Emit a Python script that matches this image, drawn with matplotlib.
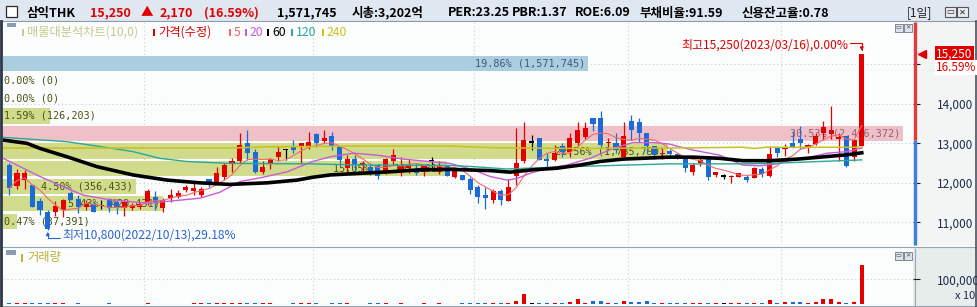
import matplotlib
matplotlib.use("Agg")
import matplotlib.pyplot as plt
import matplotlib.transforms as mtrans
from matplotlib.patches import Rectangle
import numpy as np
import pandas as pd

plt.rcParams['font.family'] = ['Noto Sans CJK KR', 'DejaVu Sans']

# 일봉 시가/고가/저가/종가 (112 거래일, 마지막 = 2023/03/16)
opens = [12450, 11920, 12070, 11950, 11530, 11270, 11270, 11310, 11750, 11590,
         11400, 11470, 11420, 11580, 11520, 11360, 11360, 11400, 11520, 11650,
         11360, 11610, 11650, 11820, 11800, 11690, 12090, 11990, 12140, 12490,
         12540, 13000, 12790, 12280, 12470, 12660, 12830, 12900, 12900, 12940,
         13230, 13070, 13190, 12900, 12380, 12600, 12450, 12390, 12450, 12260,
         12540, 12330, 12380, 12340, 12280, 12550, 12280, 12450, 12140, 12200,
         12090, 11890, 11690, 11570, 11800, 11530, 12170, 12550, 13020, 13140,
         12600, 12580, 12940, 12790, 13020, 13170, 13630, 13630, 13000, 13020,
         12660, 13570, 13540, 13250, 12920, 12730, 12810, 12730, 12660, 12280,
         12490, 12660, 12200, 12160, 12140, 12160, 12160, 12120, 12350, 12170,
         12900, 12850, 13000, 13100, 12900, 12980, 13270, 13240, 13120, 13190,
         12650, 12930]
highs = [12500, 12340, 12330, 11950, 11610, 11310, 11530, 11580, 11800, 11690,
         11560, 11520, 11570, 11610, 11580, 11570, 11480, 11500, 11840, 11800,
         11610, 11840, 11820, 11950, 11990, 11900, 12090, 12410, 12490, 12620,
         13250, 13340, 12850, 12540, 12620, 12920, 12850, 13080, 13000, 13280,
         13250, 13340, 13290, 12920, 12700, 12700, 12560, 12490, 12480, 12620,
         12850, 12650, 12600, 12490, 12450, 12650, 12540, 12450, 12380, 12200,
         12140, 11950, 11890, 11840, 11840, 12090, 13390, 13540, 13200, 13140,
         12750, 12960, 13020, 13250, 13540, 13540, 13630, 13810, 13130, 13250,
         13540, 13720, 13630, 13250, 12920, 12870, 12850, 12760, 12660, 12510,
         12660, 12660, 12280, 12220, 12200, 12240, 12200, 12410, 12410, 12930,
         12900, 12980, 13300, 13440, 12980, 13250, 13570, 13940, 13270, 13190,
         13080, 15250]
lows = [11690, 11840, 11840, 11400, 11190, 10800, 11150, 11130, 11560, 11230,
        11300, 11250, 11330, 11250, 11210, 11150, 11320, 11350, 11440, 11310,
        11250, 11520, 11610, 11780, 11700, 11650, 11900, 11950, 12070, 12280,
        12490, 12580, 12240, 12220, 12340, 12540, 12580, 12750, 12490, 12850,
        12900, 13000, 12830, 12450, 12280, 12280, 12240, 12200, 12090, 12220,
        12450, 12170, 12260, 12200, 12170, 12370, 12220, 12170, 12110, 12070,
        11720, 11500, 11350, 11500, 11440, 11530, 11950, 12490, 12830, 12580,
        12370, 12560, 12660, 12660, 12930, 13100, 13320, 12870, 12830, 12750,
        12660, 13080, 13040, 12730, 12600, 12600, 12680, 12600, 12280, 12200,
        12430, 12060, 12160, 12090, 12000, 12160, 12030, 12120, 12140, 12140,
        12650, 12680, 12870, 12850, 12750, 12960, 13080, 13100, 12560, 12410,
        12540, 12930]
closes = [11860, 12260, 12260, 11400, 11300, 10820, 11420, 11570, 11570, 11400,
          11480, 11250, 11420, 11360, 11360, 11520, 11440, 11460, 11800, 11520,
          11570, 11690, 11740, 11890, 11860, 11840, 11950, 12240, 12450, 12550,
          12960, 12750, 12280, 12410, 12600, 12790, 12830, 12830, 13000, 13040,
          13000, 13130, 12900, 12580, 12600, 12450, 12510, 12220, 12170, 12600,
          12700, 12450, 12450, 12240, 12450, 12550, 12450, 12170, 12340, 12070,
          11820, 11630, 11610, 11800, 11570, 11890, 12510, 13080, 13020, 12580,
          12540, 12760, 12790, 13130, 13340, 13380, 13490, 12960, 13040, 12820,
          13190, 13340, 13250, 12920, 12700, 12750, 12730, 12660, 12380, 12450,
          12580, 12140, 12280, 12160, 12180, 12240, 12070, 12380, 12220, 12730,
          12750, 12870, 12870, 13020, 12960, 13190, 13410, 13340, 13150, 12430,
          13080, 15250]
volumes = [38000, 42000, 35000, 40000, 36000, 45000, 33000, 36000, 30000, 34000,
           31000, 30000, 28000, 33000, 30000, 32000, 29000, 30000, 34000, 31000,
           30000, 32000, 30000, 31000, 35000, 33000, 36000, 67000, 38000, 36000,
           67000, 67000, 36000, 33000, 35000, 30000, 31000, 34000, 33000, 36000,
           38000, 32000, 35000, 33000, 34000, 31000, 30000, 36000, 33000, 35000,
           31000, 34000, 32000, 30000, 33000, 31000, 36000, 30000, 32000, 35000,
           38000, 36000, 34000, 33000, 36000, 40000, 133000, 413000, 40000, 50000,
           50000, 40000, 40000, 107000, 213000, 67000, 133000, 147000, 40000, 40000,
           147000, 80000, 80000, 147000, 67000, 40000, 36000, 38000, 35000, 34000,
           37000, 67000, 35000, 33000, 36000, 34000, 35000, 33000, 36000, 173000,
           67000, 80000, 107000, 107000, 67000, 107000, 213000, 213000, 107000, 67000,
           107000, 1571745]
prev_close = 13080
month_first = [18, 40, 61, 81, 101]   # 11/1, 12/1, 1/2, 2/1, 3/2

# 이동평균선
ma20_x = [-0.8, 1.4, 4.0, 7.5, 9.6, 13.1, 18.3, 20.5, 24.8, 27.4, 30.0, 33.0, 36.2,
          39.5, 41.8, 44.8, 47.9, 51.3, 57.4, 60.4, 62.6, 64.8, 66.1, 67.8, 70.0,
          72.6, 75.6, 78.6, 81.2, 83.8, 86.0, 86.9, 89.0, 92.5, 95.5, 97.7, 99.9,
          102.0, 104.3, 106.5, 109.1, 111]
ma20_y = [12620, 12410, 12160, 11860, 11690, 11570, 11480, 11530, 11610, 11760, 12030,
          12140, 12280, 12540, 12660, 12750, 12700, 12600, 12490, 12330, 12160, 12070,
          12110, 12240, 12370, 12450, 12620, 12870, 13020, 13020, 12980, 12930, 12830,
          12700, 12450, 12430, 12480, 12580, 12650, 12750, 12790, 12880]
ma60_x = [-0.8, 2.3, 4.0, 7.5, 11.4, 16.1, 20.5, 24.8, 28.7, 33.6, 37.5, 39.5, 41.8,
          45.7, 49.6, 53.5, 57.4, 62.6, 65.2, 68.2, 71.3, 74.3, 76.9, 79.9, 86.0,
          89.0, 92.5, 95.5, 99.0, 102.6, 105.6, 109.1, 111]
ma60_y = [13080, 13000, 12870, 12660, 12410, 12200, 12070, 12000, 11960, 12000, 12070,
          12140, 12200, 12240, 12280, 12330, 12340, 12310, 12270, 12330, 12370, 12450,
          12540, 12600, 12650, 12650, 12620, 12560, 12560, 12600, 12650, 12710, 12760]
ma120_x = [-0.8, 3.1, 7.5, 11.8, 16.1, 19.6, 23.1, 28.7, 39.5, 45.7, 57.4, 60.4, 64.8,
           67.4, 73.4, 80.4, 86.0, 95.5, 99.0, 105.6, 111]
ma120_y = [13150, 13100, 13040, 12920, 12790, 12620, 12540, 12490, 12480, 12450, 12440,
           12410, 12350, 12370, 12410, 12450, 12480, 12480, 12490, 12540, 12580]
ma240_x = [-0.8, 28.7, 33.6, 45.7, 57.4, 62.6, 71.3, 86.0, 95.5, 97.0, 98.5, 111]
ma240_y = [12880, 12880, 12910, 12930, 12930, 12890, 12870, 12880, 12900, 12870, 12900, 12900]

# 매물대 (10구간)
profile_vol = [37391, 429431, 356433, 1191381, 1785790, 2416372, 126203, 0, 0, 1571745]

header = [(27, '삼익THK', 'black'), (90, '15,250', '#e00000'), (141, '▲', '#e00000'),
          (160, '2,170', '#e00000'), (204, '(16.59%)', '#e00000'),
          (277, '1,571,745', 'black'), (352, '시총:3,202억', 'black'),
          (448, 'PER:23.25', 'black'), (512, 'PBR:1.37', 'black'),
          (575, 'ROE:6.09', 'black'), (640, '부채비율:91.59', 'black'),
          (742, '신용잔고율:0.78', 'black')]
legend = [(22, '매물대분석차트(10,0)', '#c5ca8e'), (153, '가격(수정)', '#e00000'),
          (229, '5', '#e86a6a'), (245, '20', '#c95bd8'), (267, '60', '#000000'),
          (291, '120', '#2aa898'), (322, '240', '#c8c01c')]

W, H = 978, 307
fig = plt.figure(figsize=(W / 100, H / 100), dpi=100)
fig.patch.set_facecolor('#fbfdfd')


def box(x0, y0, x1, y1):
    return [x0 / W, 1 - y1 / H, (x1 - x0) / W, (y1 - y0) / H]


bg = fig.add_axes([0, 0, 1, 1], zorder=0)
bg.set_xlim(0, W); bg.set_ylim(H, 0); bg.axis('off')
ax = fig.add_axes(box(3, 22, 913, 245), zorder=1)
axv = fig.add_axes(box(3, 249, 913, 305), zorder=1)
ov = fig.add_axes([0, 0, 1, 1], zorder=5)
ov.set_xlim(0, W); ov.set_ylim(H, 0); ov.axis('off')

# 배경, 테두리
bg.add_patch(Rectangle((0, 0), W, 20.5, fc='#dfe7f1', ec='none'))
bg.add_patch(Rectangle((913, 21), 65, 225, fc='#f3f5f5', ec='none'))
bg.add_patch(Rectangle((913, 247), 65, 60, fc='#e7edeb', ec='none'))
bg.plot([0, W], [20.5, 20.5], color='#8d99ab', lw=0.8)
bg.plot([3, W], [246.5, 246.5], color='#98a3b4', lw=0.8)
bg.plot([3, W], [305.5, 305.5], color='#98a3b4', lw=0.8)
bg.plot([1.3, 1.3], [20.5, H], color='#2c3648', lw=2.0)
bg.plot([976, 976], [20.5, H], color='#4a5260', lw=1.2)
bg.plot([914.5, 914.5], [249, 305], color='#9aa4b2', lw=0.8)

x = np.arange(len(closes))
o, h, l, c = (np.array(v, dtype=float) for v in (opens, highs, lows, closes))
col = np.where(c > o, '#e50000', np.where(c < o, '#1c6ad8', '#000000'))

# ---- 가격 차트 ----
ax.set_facecolor('#fbfdfd')
ax.set_xlim(-0.82, 117.67)
ax.set_ylim(10427, 16069)
for s in ax.spines.values():
    s.set_visible(False)
ax.set_xticks(np.array(month_first) - 0.5)
ax.tick_params(axis='x', length=0, labelbottom=False)
ax.yaxis.tick_right()
ax.set_yticks([11000, 12000, 13000, 14000, 15000])
ax.set_yticklabels(['11,000', '12,000', '13,000', '14,000', ''])
ax.tick_params(axis='y', direction='out', length=5, width=0.8, color='#202020',
               pad=12, labelsize=8.5, labelcolor='#1e2b4c')
ax.grid(True, color='#c9ced6', linestyle=(0, (1, 2.5)), linewidth=0.8)
ax.set_axisbelow(True)

# 매물대
x0, x1 = ax.get_xlim()
span = x1 - x0
edges = np.linspace(10800, 15250, len(profile_vol) + 1)
binh = edges[1] - edges[0]
pct = np.array(profile_vol) / sum(profile_vol) * 100
imax = int(np.argmax(pct))
icur = int(np.searchsorted(edges, closes[-1])) - 1
for i, p in enumerate(pct):
    w = p / pct.max() * span * 0.989
    fc, tc = '#d0dc8c', '#4a5214'
    if i == imax:
        fc, tc = '#f0c0c8', '#8e6472'
    elif i == icur:
        fc, tc = '#aacde0', '#3d5a78'
    yc = (edges[i] + edges[i + 1]) / 2
    ax.barh(yc, w, height=binh - 60, left=x0, color=fc, zorder=1)
    label = f"{p:.2f}% ({profile_vol[i]:,})"
    if w / span * 910 > 100:
        ax.text(x0 + w - 0.4, yc, label, ha='right', va='center', color=tc,
                family='DejaVu Sans Mono', fontsize=7.3, zorder=2)
    else:
        ax.text(x0 + 0.15, yc, label, ha='left', va='center', color=tc,
                family='DejaVu Sans Mono', fontsize=7.3, zorder=2)

# 캔들
ax.vlines(x, l, h, colors=col, lw=0.9, zorder=4)
ax.bar(x, np.maximum(np.abs(c - o), 28), bottom=np.minimum(o, c), width=0.66,
       color=col, linewidth=0, zorder=4)

# 이동평균
ma5 = pd.Series(closes).rolling(5, min_periods=1).mean()
ax.plot(x, ma5, color='#ef6b6b', lw=0.8, zorder=5)
ax.plot(ma20_x, ma20_y, color='#c95bd8', lw=1.0, zorder=5)
ax.plot(ma120_x, ma120_y, color='#2aa898', lw=1.0, zorder=5)
ax.plot(ma240_x, ma240_y, color='#c8c01c', lw=1.1, zorder=5)
ax.plot(ma60_x, ma60_y, color='black', lw=2.6, zorder=6)

# 최고/최저 표시
hi_i = int(np.argmax(h)); lo_i = int(np.argmin(l))
ax.annotate(f"최고{h[hi_i]:,.0f}(2023/03/16),0.00%", xy=(hi_i, h[hi_i]),
            xytext=(-9.9, 6.8), textcoords='offset points', ha='right', va='center',
            color='#e00000', fontsize=8.6, zorder=7)
ax.annotate('', xy=(hi_i, h[hi_i]), xytext=(-8.4, 8.4), textcoords='offset points',
            arrowprops=dict(arrowstyle='-|>', color='#e00000', lw=0.8, mutation_scale=5,
                            connectionstyle='angle,angleA=0,angleB=90,rad=0',
                            shrinkA=0, shrinkB=2.5), zorder=7)
ax.annotate(f"최저{l[lo_i]:,.0f}(2022/10/13),29.18%", xy=(lo_i, l[lo_i]),
            xytext=(10.3, -3.8), textcoords='offset points', ha='left', va='center',
            color='#2a64cc', fontsize=8.6, zorder=7)
ax.annotate('', xy=(lo_i, l[lo_i]), xytext=(8.9, -5.3), textcoords='offset points',
            arrowprops=dict(arrowstyle='-|>', color='#2a64cc', lw=0.8, mutation_scale=5,
                            connectionstyle='angle,angleA=180,angleB=90,rad=0',
                            shrinkA=0, shrinkB=1), zorder=7)

# 오른쪽 가격 막대와 현재가
blend = mtrans.blended_transform_factory(ax.transAxes, ax.transData)
ylo, yhi = ax.get_ylim()
bx = 1 + 2.5 / 910
ax.vlines(bx, prev_close, yhi, colors='#e43c3c', lw=2.4, transform=blend, clip_on=False, zorder=1)
ax.vlines(bx, ylo, prev_close, colors='#3f7fdc', lw=2.4, transform=blend, clip_on=False, zorder=1)
ax.plot([1 + 9 / 910], [closes[-1]], marker='<', ms=6, color='#e00000', transform=blend,
        clip_on=False, zorder=6)
ax.text(1 + 23 / 910, closes[-1], f"{closes[-1]:,}", transform=blend, ha='left', va='center',
        color='white', fontsize=8.5, zorder=6, clip_on=False,
        bbox=dict(boxstyle='square,pad=0.12', fc='#e00000', ec='none'))
ax.annotate(f"{(closes[-1] - prev_close) / prev_close * 100:.2f}%", xy=(1 + 23 / 910, closes[-1]),
            xycoords=blend, xytext=(0, -9.6), textcoords='offset points', ha='left',
            va='center', color='#e00000', fontsize=8.5, zorder=6,
            bbox=dict(boxstyle='square,pad=0.08', fc='white', ec='none'))

# ---- 거래량 ----
axv.set_facecolor('#fbfdfd')
axv.set_xlim(ax.get_xlim())
axv.set_ylim(-2800, 221200)
for s in axv.spines.values():
    s.set_visible(False)
axv.bar(x, np.array(volumes) / 10, width=0.52, color=col, linewidth=0, zorder=3)
axv.set_xticks(np.array(month_first) - 0.5)
axv.tick_params(axis='x', length=0, labelbottom=False)
axv.yaxis.tick_right()
axv.set_yticks([100000])
axv.set_yticklabels(['100,000'])
axv.tick_params(axis='y', direction='out', length=5, width=0.8, color='#202020',
                pad=12, labelsize=8.5, labelcolor='#1e2b4c')
axv.grid(True, color='#c9ced6', linestyle=(0, (1, 2.5)), linewidth=0.8)
axv.set_axisbelow(True)

# ---- 상단 정보줄, 범례, 아이콘 ----
ov.add_patch(Rectangle((5.5, 6), 11, 11, fc='white', ec='#2a2a2a', lw=0.9))
for px, txt, cl in header:
    ov.text(px, 13, txt, color=cl, fontsize=9, fontweight='bold', ha='left', va='center')
ov.text(907, 13, '[1일]', color='#222222', fontsize=8.5, ha='left', va='center')
for bx0, sym in ((945, '▭'), (957, '✕')):
    ov.add_patch(Rectangle((bx0, 7), 10.5, 10, fc='#e9edf3', ec='#555555', lw=0.8))
    ov.text(bx0 + 5.2, 12, sym, ha='center', va='center', fontsize=6, color='#222222',
            family=['DejaVu Sans'])

ov.add_patch(Rectangle((7, 23), 9, 4, fc='#8b9bb5', ec='none'))
for px, txt, cl in legend:
    ov.add_patch(Rectangle((px, 29), 2.3, 7, fc=cl, ec='none'))
    ov.text(px + 5, 32.5, txt, color=cl, fontsize=8.8, ha='left', va='center')

for iy in (24, 252):
    for bx0, sym in ((895, '▭'), (904, '✕')):
        ov.add_patch(Rectangle((bx0, iy), 7.5, 7.5, fc='#dfe4ec', ec='#7d8796', lw=0.7))
        ov.text(bx0 + 3.8, iy + 3.9, sym, ha='center', va='center', fontsize=4.5,
                color='#555555', family=['DejaVu Sans'])

ov.add_patch(Rectangle((6, 250), 10, 5, fc='#8b9bb5', ec='none'))
ov.add_patch(Rectangle((21, 254), 2.3, 8, fc='#c8b030', ec='none'))
ov.text(27, 258, '거래량', color='#bfae35', fontsize=8.8, ha='left', va='center')
ov.text(955, 296, 'x 10', color='#1e2b4c', fontsize=8, ha='left', va='center')

fig.savefig('out.png', dpi=100, facecolor=fig.get_facecolor())
